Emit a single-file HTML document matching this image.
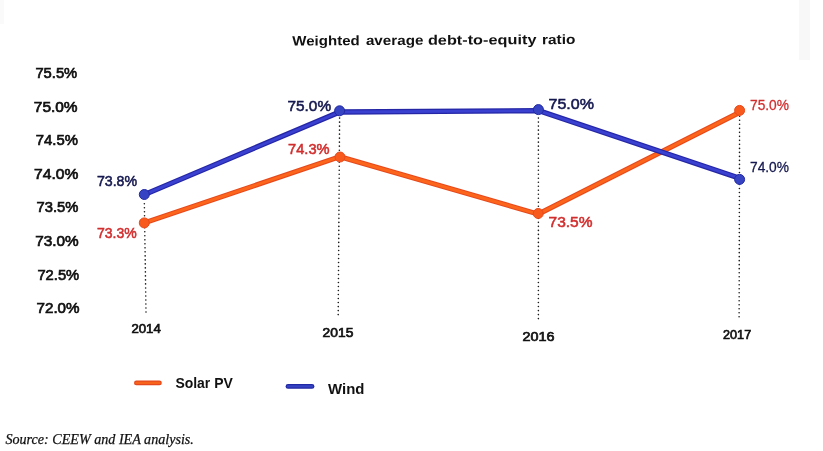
<!DOCTYPE html>
<html>
<head>
<meta charset="utf-8">
<title>Weighted average debt-to-equity ratio</title>
<style>
html,body{margin:0;padding:0;background:#ffffff;}
body{width:823px;height:451px;overflow:hidden;position:relative;}
svg{position:absolute;left:0;top:0;display:block;}
text{font-family:"Liberation Sans",sans-serif;}
.ax{font-size:15px;fill:#111;stroke:#111;stroke-width:0.7;}
.yr{font-size:13.2px;fill:#111;stroke:#111;stroke-width:0.7;}
.navy{font-size:15px;fill:#15184f;stroke:#15184f;stroke-width:0.55;}
.red{font-size:15px;fill:#d22e2e;stroke:#d22e2e;stroke-width:0.55;}
.ttl{font-size:13.6px;font-weight:bold;fill:#111;}
.lg{font-size:15px;font-weight:bold;fill:#111;}
.src{font-family:"Liberation Serif",serif;font-style:italic;font-size:15px;fill:#111;stroke:#111;stroke-width:0.25;}
</style>
</head>
<body>
<svg width="823" height="451" viewBox="0 0 823 451">
  <rect x="0" y="0" width="823" height="451" fill="#ffffff"/>

  <rect x="799" y="0" width="11" height="60" fill="#f9f8f9"/>
  <rect x="0" y="0" width="4" height="24" fill="#fbfafa"/>

  <!-- title -->
  <g transform="rotate(-0.3 292.3 45.5)">
  <text class="ttl" x="292.3" y="45.5" textLength="67.4" lengthAdjust="spacingAndGlyphs">Weighted</text>
  <text class="ttl" x="365.9" y="45.5" textLength="57.6" lengthAdjust="spacingAndGlyphs">average</text>
  <text class="ttl" x="427.9" y="45.5" textLength="108.6" lengthAdjust="spacingAndGlyphs">debt-to-equity</text>
  <text class="ttl" x="542" y="45.5" textLength="33.5" lengthAdjust="spacingAndGlyphs">ratio</text>
  </g>

  <!-- y axis labels -->
  <text class="ax" x="35.4" y="77.9" textLength="41.8" lengthAdjust="spacingAndGlyphs">75.5%</text>
  <text class="ax" x="33.8" y="111.8" textLength="43.8" lengthAdjust="spacingAndGlyphs">75.0%</text>
  <text class="ax" x="35.8" y="145.1" textLength="42.1" lengthAdjust="spacingAndGlyphs">74.5%</text>
  <text class="ax" x="34.1" y="178.8" textLength="44.2" lengthAdjust="spacingAndGlyphs">74.0%</text>
  <text class="ax" x="36.5" y="212.3" textLength="41.8" lengthAdjust="spacingAndGlyphs">73.5%</text>
  <text class="ax" x="35.2" y="245.8" textLength="43.5" lengthAdjust="spacingAndGlyphs">73.0%</text>
  <text class="ax" x="37.4" y="279.5" textLength="41.8" lengthAdjust="spacingAndGlyphs">72.5%</text>
  <text class="ax" x="36.5" y="312.8" textLength="43.1" lengthAdjust="spacingAndGlyphs">72.0%</text>

  <!-- dotted guide lines -->
  <g stroke="#1a1a1a" stroke-width="1.6" stroke-linecap="round" stroke-dasharray="0.01 4" fill="none">
    <line x1="146" y1="312" x2="144.3" y2="200"/>
    <line x1="338.2" y1="314.6" x2="339.6" y2="117"/>
    <line x1="538.4" y1="318.6" x2="538.4" y2="116"/>
    <line x1="739.1" y1="316.8" x2="739.6" y2="116"/>
  </g>

  <!-- year labels -->
  <text class="yr" x="131.4" y="333.2" textLength="29.4" lengthAdjust="spacingAndGlyphs">2014</text>
  <text class="yr" x="322.6" y="336.9" textLength="30.8" lengthAdjust="spacingAndGlyphs">2015</text>
  <text class="yr" x="522.6" y="341.3" textLength="32" lengthAdjust="spacingAndGlyphs">2016</text>
  <text class="yr" x="723" y="339.1" textLength="28.2" lengthAdjust="spacingAndGlyphs">2017</text>

  <!-- Solar PV series -->
  <g fill="none" stroke-linejoin="round" stroke-linecap="round">
    <polyline points="144.3,222.9 340,156.7 538.2,214.1 739.6,112.4" stroke="#e6481c" stroke-width="5.1"/>
    <polyline points="144.3,222.9 340,156.7 538.2,214.1 739.6,112.4" stroke="#fb651c" stroke-width="3"/>
  </g>
  <g fill="#f75a1c" stroke="#e84a1c" stroke-width="1">
    <circle cx="144.3" cy="222.9" r="5"/>
    <circle cx="340" cy="157" r="5"/>
    <circle cx="538.2" cy="213.5" r="5"/>
    <circle cx="739.6" cy="110.4" r="5"/>
  </g>

  <!-- Wind series -->
  <g fill="none" stroke-linejoin="round" stroke-linecap="round">
    <polyline points="144.3,194.6 339.6,112 538.4,110.6 739.6,178.2" stroke="#2426a6" stroke-width="5.3"/>
    <polyline points="144.3,194.6 339.6,112 538.4,110.6 739.6,178.2" stroke="#3a40d0" stroke-width="2.8"/>
  </g>
  <g fill="#3644c4" stroke="#2229a4" stroke-width="1">
    <circle cx="144.3" cy="194.5" r="5"/>
    <circle cx="339.6" cy="110.8" r="5"/>
    <circle cx="538.4" cy="109.6" r="5"/>
    <circle cx="739.6" cy="179.4" r="5"/>
  </g>

  <!-- data labels -->
  <text class="navy" x="96.9" y="186.2" textLength="40.2" lengthAdjust="spacingAndGlyphs">73.8%</text>
  <text class="red" x="96.9" y="237.8" textLength="39.8" lengthAdjust="spacingAndGlyphs">73.3%</text>
  <text class="navy" x="287.5" y="110.6" textLength="43.6" lengthAdjust="spacingAndGlyphs">75.0%</text>
  <text class="red" x="288.1" y="153.5" textLength="41.5" lengthAdjust="spacingAndGlyphs">74.3%</text>
  <text class="navy" x="548.5" y="108.7" textLength="45.5" lengthAdjust="spacingAndGlyphs">75.0%</text>
  <text class="red" x="548.5" y="226.7" textLength="44" lengthAdjust="spacingAndGlyphs">73.5%</text>
  <text class="red" style="stroke-width:0.3" x="750" y="110.3" textLength="39" lengthAdjust="spacingAndGlyphs">75.0%</text>
  <text class="navy" style="stroke-width:0.3" x="750" y="172.2" textLength="39" lengthAdjust="spacingAndGlyphs">74.0%</text>

  <!-- legend -->
  <line x1="136.4" y1="382.9" x2="159.4" y2="382.9" stroke="#e4481c" stroke-width="4.8" stroke-linecap="round"/>
  <line x1="136.4" y1="382.9" x2="159.4" y2="382.9" stroke="#f8631c" stroke-width="2.4" stroke-linecap="round"/>
  <text class="lg" x="175.4" y="387.6" textLength="57.4" lengthAdjust="spacingAndGlyphs">Solar PV</text>
  <line x1="288" y1="386.4" x2="312" y2="386.4" stroke="#2229a4" stroke-width="4.8" stroke-linecap="round"/>
  <line x1="288" y1="386.4" x2="312" y2="386.4" stroke="#3644c4" stroke-width="2.4" stroke-linecap="round"/>
  <text class="lg" x="328" y="393.5" textLength="36.4" lengthAdjust="spacingAndGlyphs">Wind</text>

  <!-- source -->
  <text class="src" x="5.4" y="443.5" textLength="188.5" lengthAdjust="spacingAndGlyphs">Source: CEEW and IEA analysis.</text>
</svg>
</body>
</html>
